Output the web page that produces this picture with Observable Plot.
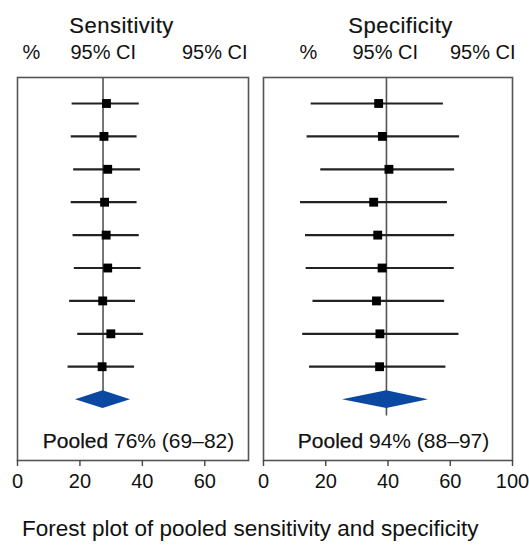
<!DOCTYPE html>
<html>
<head>
<meta charset="utf-8">
<script src="https://cdn.jsdelivr.net/npm/d3@7"></script>
<script src="https://cdn.jsdelivr.net/npm/@observablehq/plot@0.6"></script>
<style>
  html, body { margin: 0; padding: 0; background: #ffffff; }
  #wrap { width: 529px; font-family: "Liberation Sans", Arial, sans-serif; color: #111; }
  #panels { display: flex; flex-direction: row; }
  #caption { font-size: 22.5px; margin: 16px 0 0 22px; line-height: 26px; white-space: nowrap; }
</style>
</head>
<body>
<div id="wrap">
  <div id="panels"></div>
  <div id="caption">Forest plot of pooled sensitivity and specificity</div>
</div>
<script>
// ---- data ----
const studyRows = [0, 1, 2, 3, 4, 5, 6, 7, 8];

const sensEst = [28.5, 27.7, 28.9, 27.9, 28.4, 28.9, 27.3, 29.9, 27.1];
const sensLo  = [17.5, 17.2, 18.0, 17.2, 17.8, 18.2, 16.7, 19.3, 16.2];
const sensHi  = [39.0, 38.3, 39.4, 38.3, 39.0, 39.6, 37.8, 40.4, 37.5];
const sensPooled = {est: 27.4, lo: 18.6, hi: 36.2};
const sensRef = 27.4;
const sensPooledLabel = ["Pooled", "76% (69–82)"];

const specEst = [37.0, 38.2, 40.3, 35.4, 36.7, 38.1, 36.3, 37.4, 37.3];
const specLo  = [15.3, 14.0, 18.4, 11.9, 13.5, 13.7, 15.9, 12.6, 14.8];
const specHi  = [57.8, 63.0, 61.4, 59.1, 61.4, 61.3, 58.2, 62.8, 58.6];
const specPooled = {est: 39.6, lo: 25.4, hi: 53.0};
const specRef = 39.5;
const specPooledLabel = ["Pooled", "94% (88–97)"];

const sensTicks = [0, 20, 40, 60];
const sensTickLabels = ["0", "20", "40", "60"];
const specTicks = [0, 20, 40, 60, 80];
const specTickLabels = ["0", "20", "40", "60", "100"];

const sensTitle = "Sensitivity";
const specTitle = "Specificity";
const colHeads = ["%", "95% CI", "95% CI"];

// ---- drawing ----
const FONT = "Liberation Sans, Arial, sans-serif";
const pooledRow = 9;
const yDomain = [-0.79, 10.85];

function panel(o) {
  const studies = studyRows.map((r, i) => ({row: r, est: o.est[i], lo: o.lo[i], hi: o.hi[i]}));
  const dh = 0.27;
  const diamond = [
    {x: o.pooled.lo,  y1: pooledRow,      y2: pooledRow},
    {x: o.pooled.est, y1: pooledRow - dh, y2: pooledRow + dh},
    {x: o.pooled.hi,  y1: pooledRow,      y2: pooledRow}
  ];
  const svg = Plot.plot({
    width: o.width,
    height: 500,
    marginLeft: o.ml,
    marginRight: o.mr,
    marginTop: 77,
    marginBottom: 40,
    style: {fontFamily: FONT, fontSize: "20px", color: "#111", background: "transparent"},
    x: {domain: o.domain},
    y: {domain: yDomain, reverse: true, axis: null},
    marks: [
      Plot.ruleX([o.ref], {x: d => d, y1: yDomain[0], y2: o.refEnd, stroke: "#555", strokeWidth: 1.6}),
      Plot.ruleY(studies, {y: "row", x1: "lo", x2: "hi", stroke: "#222", strokeWidth: 2.2}),
      Plot.dot(studies, {x: "est", y: "row", symbol: "square", r: 5, fill: "#000", stroke: "none"}),
      Plot.areaY(diamond, {x: "x", y1: "y1", y2: "y2", fill: "#0a48a2", curve: "linear"}),
      Plot.frame({stroke: "#555", strokeWidth: 1.6}),
      Plot.axisX({ticks: o.ticks, tickFormat: d => o.tickLabels[o.ticks.indexOf(d)], tickSize: 6, tickPadding: 7, fontSize: 20, stroke: "#444", strokeWidth: 1.4}),
      Plot.text([o.pooledLabel.join(" ")], {frameAnchor: "bottom", dx: 5.5, dy: -13, lineAnchor: "bottom", fontSize: 21, fill: "#111"}),
      Plot.text([o.title], {frameAnchor: "top-left", dx: o.titleDx, dy: -45, lineAnchor: "bottom", textAnchor: "middle", fontSize: 22, fill: "#111", stroke: "#111", strokeWidth: 0.2}),
      Plot.text([colHeads[0]], {frameAnchor: "top-left", dx: o.pctDx, dy: -19, lineAnchor: "bottom", textAnchor: "middle", fontSize: 20, fill: "#111"}),
      Plot.text([colHeads[1]], {frameAnchor: "top-left", dx: o.ci1Dx, dy: -19, lineAnchor: "bottom", textAnchor: "start", fontSize: 20, fill: "#111"}),
      Plot.text([colHeads[2]], {frameAnchor: "top-left", dx: o.ci2Dx, dy: -19, lineAnchor: "bottom", textAnchor: "end", fontSize: 20, fill: "#111"})
    ]
  });
  // slightly heavier "Pooled" word inside the pooled label; letter-spaced titles
  d3.select(svg).selectAll("text").filter(function() { return this.textContent === o.pooledLabel.join(" "); })
    .each(function() {
      const t = d3.select(this);
      t.text(null);
      t.append("tspan").attr("stroke", "#111").attr("stroke-width", 0.25).text(o.pooledLabel[0]);
      t.append("tspan").text(" " + o.pooledLabel[1]);
    });
  d3.select(svg).selectAll("text").filter(function() { return this.textContent === o.title; })
    .attr("letter-spacing", "0.5px");
  svg.style.overflow = "visible";
  return svg;
}

const left = panel({
  width: 255, ml: 17, mr: 7, domain: [0, 74],
  est: sensEst, lo: sensLo, hi: sensHi, pooled: sensPooled, ref: sensRef, refEnd: 8.75,
  ticks: sensTicks, tickLabels: sensTickLabels, pooledLabel: sensPooledLabel,
  title: sensTitle, titleDx: 104, pctDx: 14, ci1Dx: 53, ci2Dx: 230
});
const right = panel({
  width: 274, ml: 8, mr: 17, domain: [0, 80],
  est: specEst, lo: specLo, hi: specHi, pooled: specPooled, ref: specRef, refEnd: 9.5,
  ticks: specTicks, tickLabels: specTickLabels, pooledLabel: specPooledLabel,
  title: specTitle, titleDx: 137, pctDx: 45, ci1Dx: 89, ci2Dx: 252
});
document.getElementById("panels").append(left, right);
</script>
</body>
</html>
